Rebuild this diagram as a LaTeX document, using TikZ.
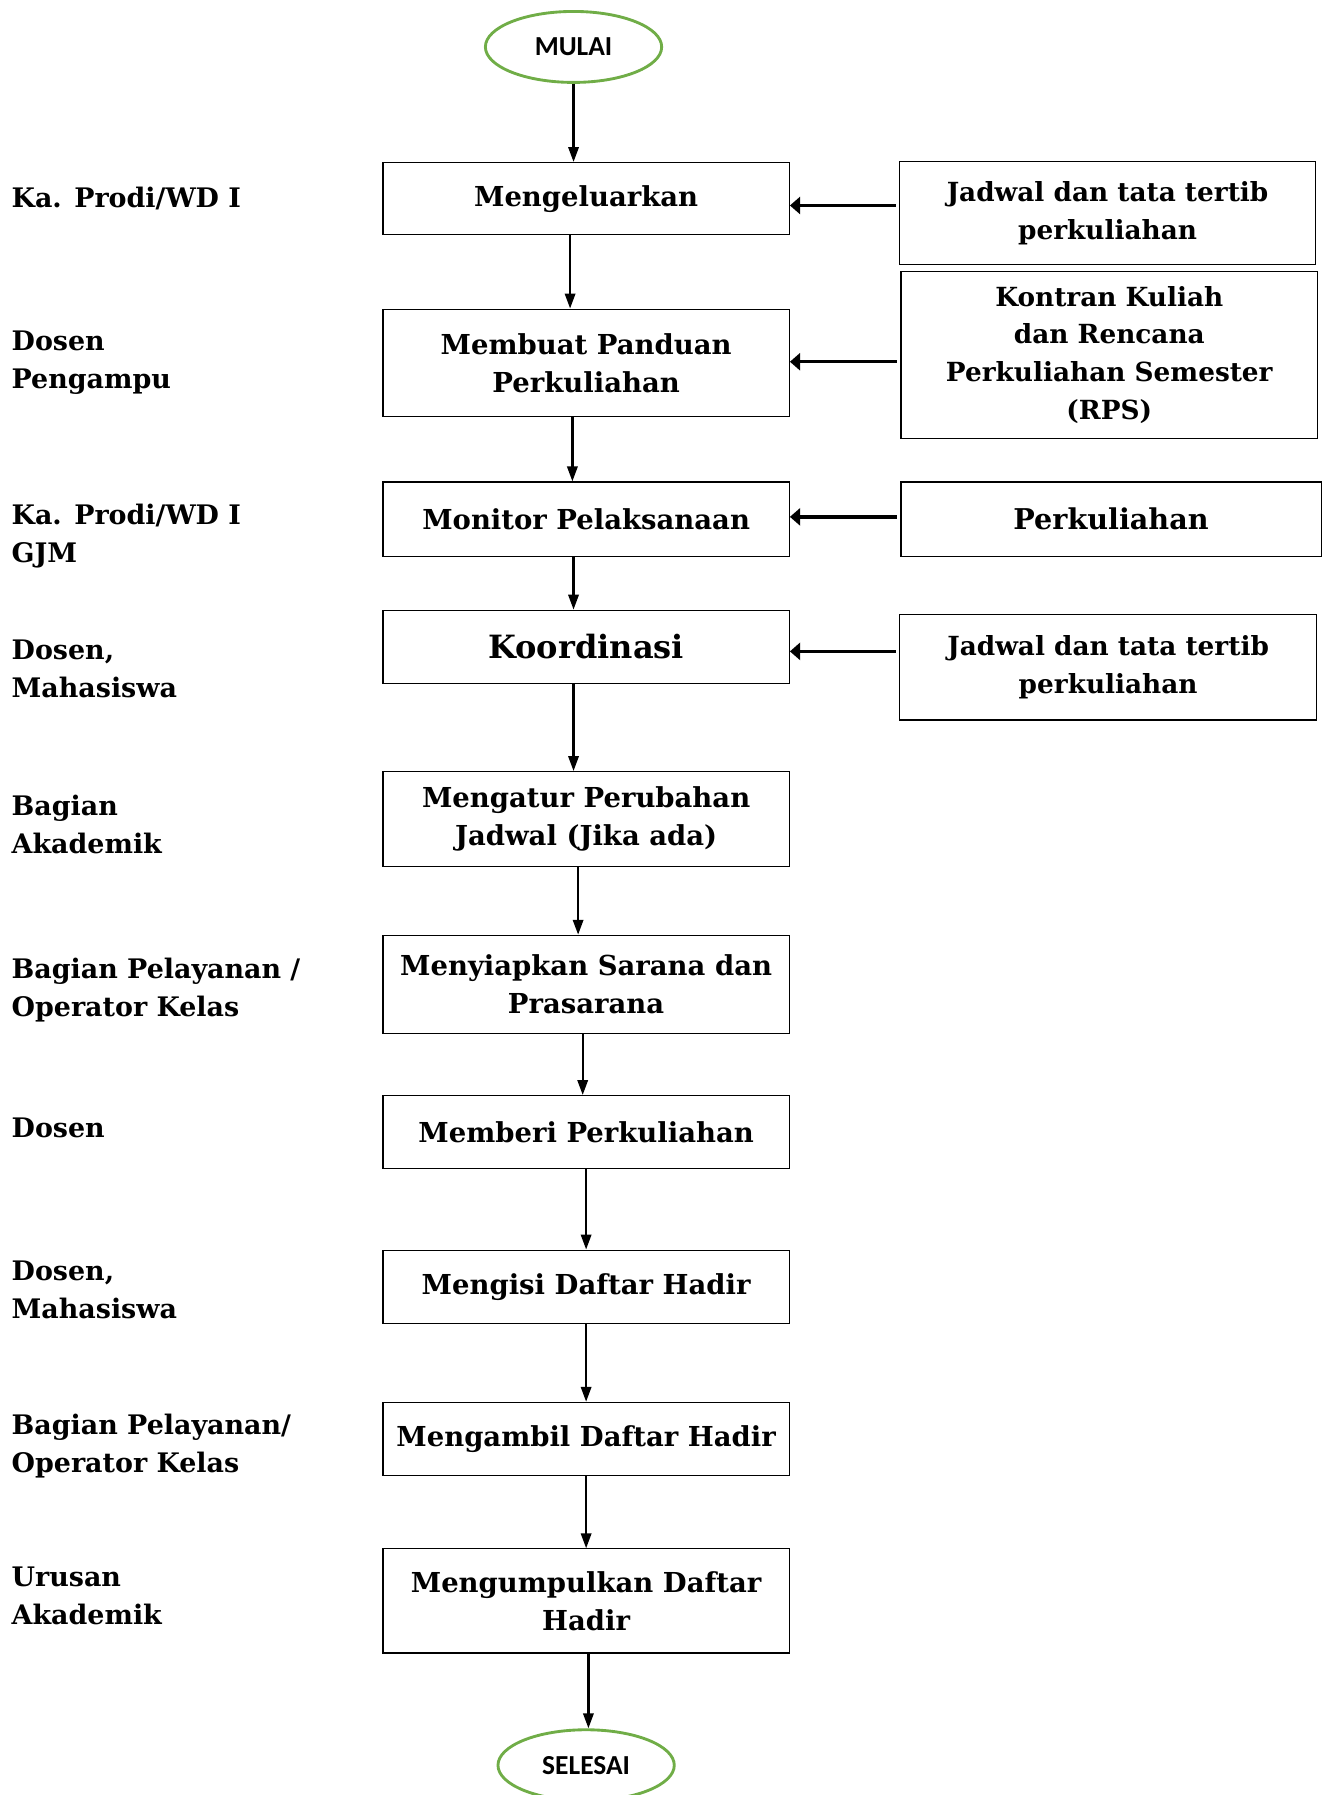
\documentclass[tikz,border=0pt]{standalone}
\usepackage{fontspec}
\setmainfont{DejaVu Serif}
\newfontfamily\calibfont{Carlito}
\usetikzlibrary{arrows.meta,shapes.geometric}
\definecolor{termgreen}{RGB}{112,173,71}

\begin{document}
\begin{tikzpicture}[x=1pt,y=-1pt,
  box/.style={draw,line width=1pt,minimum width=355pt,align=center,inner sep=2pt,
              font=\fontsize{24}{33}\selectfont\bfseries},
  side/.style={draw,line width=1pt,minimum width=364pt,align=center,inner sep=2pt,
               font=\fontsize{23}{33}\selectfont\bfseries},
  role/.style={anchor=west,align=left,inner sep=0pt,
               font=\fontsize{23.5}{33}\selectfont\bfseries},
  term/.style={ellipse,draw=termgreen,line width=2.5pt,minimum width=154pt,minimum height=62pt,
               font=\calibfont\fontsize{24}{26}\selectfont\bfseries},
  flow/.style={line width=2pt,-{Triangle[length=13pt,width=9pt]}},
  feed/.style={line width=3pt,-{Triangle[length=9pt,width=15pt]}}
]
\useasboundingbox (0,0) rectangle (1158,1568); % page size

% start and end
\node[term] (start) at (501,41) {MULAI};
\node[term] (stop) at (512,1542) {SELESAI};

% main steps
\node[box,minimum height=63pt] (m1) at (512,173.5) {Mengeluarkan};
\node[box,minimum height=94pt] (m2) at (512,317) {Membuat Panduan\\Perkuliahan};
\node[box,minimum height=65pt] (m3) at (512,453.5) {Monitor Pelaksanaan};
\node[box,minimum height=64pt,font=\fontsize{28}{33}\selectfont\bfseries] (m4) at (512,565) {Koordinasi};
\node[box,minimum height=83pt] (m5) at (512,715.5) {Mengatur Perubahan\\Jadwal (Jika ada)};
\node[box,minimum height=86pt] (m6) at (512,860) {Menyiapkan Sarana dan\\Prasarana};
\node[box,minimum height=64pt] (m7) at (512,989) {Memberi Perkuliahan};
\node[box,minimum height=64pt] (m8) at (512,1124) {Mengisi Daftar Hadir};
\node[box,minimum height=64pt] (m9) at (512,1257) {Mengambil Daftar Hadir};
\node[box,minimum height=91pt] (m10) at (512,1398.5) {Mengumpulkan Daftar\\Hadir};

% inputs on the right
\node[side,minimum width=363pt,minimum height=90pt] (r1) at (967.5,186) {Jadwal dan tata tertib\\perkuliahan};
\node[side,minimum height=146pt] (r2) at (969,310) {Kontran Kuliah\\dan Rencana\\Perkuliahan Semester\\(RPS)};
\node[side,minimum width=367pt,minimum height=65pt,font=\fontsize{25}{33}\selectfont\bfseries] (r3) at (970.5,453.5) {Perkuliahan};
\node[side,minimum height=92pt] (r4) at (968,583) {Jadwal dan tata tertib\\perkuliahan};

% who does it, on the left
\node[role] (l1) at (10,173) {Ka. Prodi/WD I};
\node[role] (l2) at (10,317) {Dosen\\Pengampu};
\node[role] (l3) at (10,468) {Ka. Prodi/WD I\\GJM};
\node[role] (l4) at (10,584) {Dosen,\\Mahasiswa};
\node[role] (l5) at (10,720) {Bagian\\Akademik};
\node[role] (l6) at (10,865) {Bagian Pelayanan /\\Operator Kelas};
\node[role] (l7) at (10,985) {Dosen};
\node[role] (l8) at (10,1127) {Dosen,\\Mahasiswa};
\node[role] (l9) at (10,1263) {Bagian Pelayanan/\\Operator Kelas};
\node[role] (l10) at (10,1394) {Urusan\\Akademik};

% arrows
\draw[flow] (start) -- (start |- m1.north);
\foreach \a/\b/\s in {m1/m2/-14,m2/m3/-12,m3/m4/-11,m4/m5/-11,m5/m6/-7,m6/m7/-3,m7/m8/0,m8/m9/0,m9/m10/0}
  \draw[flow] ([xshift=\s pt]\a.south) -- ([xshift=\s pt]\b.north);
\draw[flow] ([xshift=2pt]m10.south) -- ([xshift=2pt]stop.north);
\foreach \i/\d in {1/-6,2/1,3/2,4/-4}
  \draw[feed] ([xshift=-3pt,yshift=\d pt]r\i.west |- m\i.east) -- ([yshift=\d pt]m\i.east);

\end{tikzpicture}
\end{document}
